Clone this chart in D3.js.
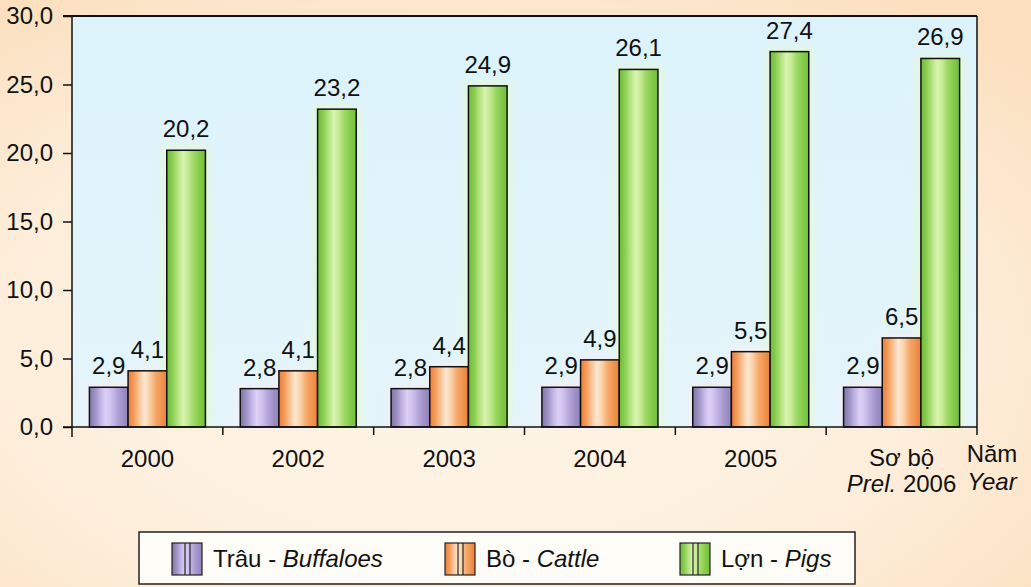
<!DOCTYPE html>
<html lang="vi">
<head>
<meta charset="UTF-8">
<title>Trâu, Bò, Lợn</title>
<script src="https://d3js.org/d3.v7.min.js"></script>
<style>
  body { margin: 0; padding: 0; }
  svg { display: block; font-family: "Liberation Sans", Arial, sans-serif; }
</style>
</head>
<body>
<div id="chart"></div>
<script>
// data
var years = ["2000", "2002", "2003", "2004", "2005", "2006"];
var buffaloes = [2.9, 2.8, 2.8, 2.9, 2.9, 2.9];
var cattle = [4.1, 4.1, 4.4, 4.9, 5.5, 6.5];
var pigs = [20.2, 23.2, 24.9, 26.1, 27.4, 26.9];
var yTicks = [0, 5, 10, 15, 20, 25, 30];
var seriesKeys = ["buffaloes", "cattle", "pigs"];
var seriesVi = ["Trâu", "Bò", "Lợn"];
var seriesEn = ["Buffaloes", "Cattle", "Pigs"];

var W = 1031, H = 587;
var pLeft = 72, pRight = 977, pTop = 16, pBottom = 427;
var fs = "24px";

var svg = d3.select("#chart").append("svg")
    .attr("width", W).attr("height", H);

var defs = svg.append("defs");

// page background
var bg = defs.append("radialGradient").attr("id", "bg")
    .attr("cx", "45%").attr("cy", "60%").attr("r", "75%");
bg.append("stop").attr("offset", "0%").attr("stop-color", "#fef6e8");
bg.append("stop").attr("offset", "60%").attr("stop-color", "#fdeedb");
bg.append("stop").attr("offset", "100%").attr("stop-color", "#fbdfbe");

var plotBg = defs.append("linearGradient").attr("id", "plotbg")
    .attr("x1", 0).attr("y1", 0).attr("x2", 0).attr("y2", 1);
plotBg.append("stop").attr("offset", "0%").attr("stop-color", "#dcf3fc");
plotBg.append("stop").attr("offset", "100%").attr("stop-color", "#e4f5fa");

// bar gradients (striped, light centre)
var offs = ["0%", "14%", "28%", "42%", "55%", "70%", "85%", "100%"];
var gradStops = {
    buffaloes: ["#8078a8", "#9a90c2", "#c0b2e2", "#ddd0f6", "#d0c2ee", "#b6a8dc", "#a092c8", "#8e84b6"],
    cattle: ["#ec7e38", "#f39a58", "#f8c294", "#fde8d2", "#fbd2aa", "#f6aa6c", "#f19550", "#ea8038"],
    pigs: ["#6cbc36", "#88cc50", "#b2e27e", "#daf4b0", "#c4eb94", "#9cd862", "#84cb4a", "#70be38"]
};
seriesKeys.forEach(function (k) {
    var g = defs.append("linearGradient").attr("id", "g-" + k)
        .attr("x1", 0).attr("y1", 0).attr("x2", 1).attr("y2", 0);
    gradStops[k].forEach(function (c, i) {
        g.append("stop").attr("offset", offs[i]).attr("stop-color", c);
    });
});

// soft halo around bars
var glow = defs.append("filter").attr("id", "glow")
    .attr("x", "-30%").attr("y", "-10%").attr("width", "160%").attr("height", "120%");
glow.append("feGaussianBlur").attr("in", "SourceGraphic").attr("stdDeviation", 4);

svg.append("rect").attr("width", W).attr("height", H).attr("fill", "url(#bg)");
svg.append("rect")
    .attr("x", pLeft).attr("y", pTop)
    .attr("width", pRight - pLeft).attr("height", pBottom - pTop)
    .attr("fill", "url(#plotbg)");

var fmt = function (v) { return d3.format(".1f")(v).replace(".", ","); };

var y = d3.scaleLinear().domain([0, 30]).range([pBottom, pTop]);
var x0 = d3.scaleBand().domain(years).range([pLeft, pRight]);
var x1 = d3.scaleBand().domain(seriesKeys).range([0, x0.bandwidth()])
    .paddingInner(0).paddingOuter(0.45);

var rows = years.map(function (yr, i) {
    return { year: yr, buffaloes: buffaloes[i], cattle: cattle[i], pigs: pigs[i] };
});
var cells = function (d) {
    return seriesKeys.map(function (k) { return { key: k, value: d[k] }; });
};

// bars
var groups = svg.selectAll(".grp").data(rows).enter().append("g")
    .attr("class", "grp")
    .attr("transform", function (d) { return "translate(" + x0(d.year) + ",0)"; });

groups.selectAll(".halo").data(cells).enter().append("rect")
    .attr("class", "halo")
    .attr("x", function (d) { return x1(d.key) - 3; })
    .attr("y", function (d) { return y(d.value) - 3; })
    .attr("width", x1.bandwidth() + 6)
    .attr("height", function (d) { return pBottom - y(d.value) + 3; })
    .attr("fill", function (d) { return d.key === "pigs" ? "#e8f9cc" : "#f6eef4"; })
    .attr("opacity", 0.9)
    .attr("filter", "url(#glow)");

groups.selectAll(".bar").data(cells).enter().append("rect")
    .attr("class", "bar")
    .attr("x", function (d) { return x1(d.key); })
    .attr("y", function (d) { return y(d.value); })
    .attr("width", x1.bandwidth())
    .attr("height", function (d) { return pBottom - y(d.value); })
    .attr("fill", function (d) { return "url(#g-" + d.key + ")"; })
    .attr("stroke", "#111")
    .attr("stroke-width", 1.5);

groups.selectAll(".val").data(cells).enter().append("text")
    .attr("class", "val")
    .attr("x", function (d) { return x1(d.key) + x1.bandwidth() / 2; })
    .attr("y", function (d) { return y(d.value) - 13; })
    .attr("text-anchor", "middle")
    .style("font-size", fs)
    .attr("fill", "#111")
    .text(function (d) { return fmt(d.value); });

// frame: top and right border
svg.append("line").attr("x1", pLeft - 9).attr("x2", pRight)
    .attr("y1", pTop).attr("y2", pTop).attr("stroke", "#111").attr("stroke-width", 2);
svg.append("line").attr("x1", pRight).attr("x2", pRight)
    .attr("y1", pTop).attr("y2", pBottom).attr("stroke", "#111").attr("stroke-width", 1.5);

// y axis
var yAxis = svg.append("g")
    .attr("transform", "translate(" + pLeft + ",0)")
    .call(d3.axisLeft(y).tickValues(yTicks).tickSize(9).tickPadding(10).tickFormat(fmt));
yAxis.attr("font-family", null);
yAxis.select(".domain").attr("stroke", "#111").attr("stroke-width", 1.5)
    .attr("d", "M0," + pTop + "V" + (pBottom + 10));
yAxis.selectAll(".tick line").attr("stroke", "#111").attr("stroke-width", 1.5);
yAxis.selectAll(".tick text").style("font-size", fs).attr("fill", "#111");

// x axis
var xAxis = svg.append("g")
    .attr("transform", "translate(0," + pBottom + ")")
    .call(d3.axisBottom(x0).tickSize(0).tickFormat(""));
xAxis.select(".domain").attr("stroke", "#111").attr("stroke-width", 1.5)
    .attr("d", "M" + (pLeft - 9) + ",0H" + pRight);
// ticks between groups
svg.selectAll(".xsep").data(years).enter().append("line")
    .attr("x1", function (d) { return x0(d) + x0.bandwidth(); })
    .attr("x2", function (d) { return x0(d) + x0.bandwidth(); })
    .attr("y1", pBottom).attr("y2", pBottom + 8)
    .attr("stroke", "#111").attr("stroke-width", 1.5);

// x labels
years.forEach(function (yr, i) {
    var cx = x0(yr) + x0.bandwidth() / 2;
    if (i < years.length - 1) {
        svg.append("text").attr("x", cx).attr("y", 467)
            .attr("text-anchor", "middle").style("font-size", fs).attr("fill", "#111")
            .text(yr);
    } else {
        svg.append("text").attr("x", cx).attr("y", 466)
            .attr("text-anchor", "middle").style("font-size", fs).attr("fill", "#111")
            .text("Sơ bộ");
        var t = svg.append("text").attr("x", cx).attr("y", 492)
            .attr("text-anchor", "middle").style("font-size", fs).attr("fill", "#111");
        t.append("tspan").style("font-style", "italic").text("Prel.");
        t.append("tspan").text(" " + yr);
    }
});
svg.append("text").attr("x", 992).attr("y", 462).attr("text-anchor", "middle")
    .style("font-size", fs).attr("fill", "#111").text("Năm");
svg.append("text").attr("x", 992).attr("y", 490).attr("text-anchor", "middle")
    .style("font-size", fs).style("font-style", "italic").attr("fill", "#111").text("Year");

// legend
svg.append("rect").attr("x", 139).attr("y", 532).attr("width", 716).attr("height", 52)
    .attr("fill", "#fefcf7").attr("stroke", "#222").attr("stroke-width", 1.5);
var legX = [172, 445, 680];
var leg = svg.selectAll(".leg").data(seriesKeys).enter().append("g")
    .attr("class", "leg")
    .attr("transform", function (d, i) { return "translate(" + legX[i] + ",543)"; });
leg.append("rect").attr("width", 30).attr("height", 32)
    .attr("fill", function (d) { return "url(#g-" + d + ")"; })
    .attr("stroke", "#222").attr("stroke-width", 1.2);
leg.append("line").attr("x1", 13).attr("x2", 13).attr("y1", 0).attr("y2", 32)
    .attr("stroke", "#222").attr("stroke-width", 1.2);
leg.append("line").attr("x1", 18).attr("x2", 18).attr("y1", 0).attr("y2", 32)
    .attr("stroke", "#222").attr("stroke-width", 1.2);
var lt = leg.append("text").attr("x", 41).attr("y", 24)
    .style("font-size", fs).attr("fill", "#111");
lt.append("tspan").text(function (d, i) { return seriesVi[i] + " - "; });
lt.append("tspan").style("font-style", "italic").text(function (d, i) { return seriesEn[i]; });
</script>
</body>
</html>
